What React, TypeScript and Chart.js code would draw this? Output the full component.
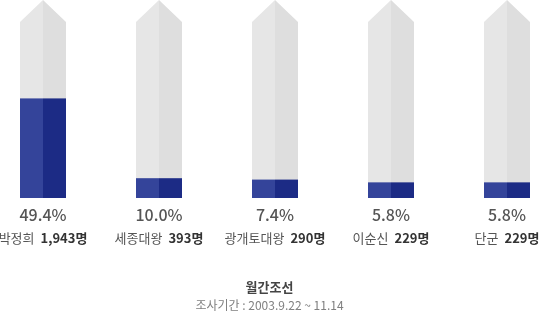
import React, { useEffect, useRef } from "react";
import { Chart, registerables } from "chart.js";

Chart.register(...registerables);

const names = ["박정희", "세종대왕", "광개토대왕", "이순신", "단군"];
const percents = [49.4, 10.0, 7.4, 5.8, 5.8];
const counts = [1943, 393, 290, 229, 229];
// fill level of each pencil as drawn in the picture (percent of full pencil height)
const barLevels = [50.3, 10.0, 9.3, 7.9, 7.9];
const fullLevels = [100, 100, 100, 100, 100];
const sourceTitle = "월간조선";
const sourceNote = "조사기간 : 2003.9.22 ~ 11.14";

const FONT = '"Noto Sans CJK KR", "Noto Sans", sans-serif';

function fmt(n: number): string {
  return String(n).replace(/\B(?=(\d{3})+(?!\d))/g, ",");
}

const pencilPlugin = {
  id: "pencil",
  afterDatasetsDraw(chart: any) {
    const ctx = chart.ctx as CanvasRenderingContext2D;
    const bg = chart.getDatasetMeta(0);
    const fg = chart.getDatasetMeta(1);
    ctx.save();
    bg.data.forEach((el: any, i: number) => {
      const x = el.x;
      const hw = el.width / 2;
      const top = el.y;
      const base = el.base;
      const shoulder = top + hw - 1;
      // left half
      ctx.beginPath();
      ctx.moveTo(x - hw, base);
      ctx.lineTo(x - hw, shoulder);
      ctx.lineTo(x, top);
      ctx.lineTo(x, base);
      ctx.closePath();
      ctx.fillStyle = "#e6e6e6";
      ctx.fill();
      // right half
      ctx.beginPath();
      ctx.moveTo(x, top);
      ctx.lineTo(x + hw, shoulder);
      ctx.lineTo(x + hw, base);
      ctx.lineTo(x, base);
      ctx.closePath();
      ctx.fillStyle = "#dedede";
      ctx.fill();

      const f = fg.data[i];
      const fy = f.y;
      ctx.fillStyle = "#34449a";
      ctx.fillRect(x - hw, fy, hw, base - fy);
      ctx.fillStyle = "#1c2b85";
      ctx.fillRect(x, fy, hw, base - fy);

      // labels
      ctx.textBaseline = "middle";
      ctx.textAlign = "center";
      ctx.fillStyle = "#555555";
      ctx.font = `500 16px ${FONT}`;
      ctx.fillText(percents[i].toFixed(1) + "%", x, base + 17);

      const nameFont = `13px ${FONT}`;
      const numFont = `bold 13px ${FONT}`;
      const nameText = names[i];
      const numText = fmt(counts[i]) + "명";
      const gap = 6;
      ctx.font = nameFont;
      const w1 = ctx.measureText(nameText).width;
      ctx.font = numFont;
      const w2 = ctx.measureText(numText).width;
      const sx = x - (w1 + gap + w2) / 2;
      ctx.textAlign = "left";
      ctx.font = nameFont;
      ctx.fillStyle = "#555555";
      ctx.fillText(nameText, sx, base + 40);
      ctx.font = numFont;
      ctx.fillStyle = "#333333";
      ctx.fillText(numText, sx + w1 + gap, base + 40);
    });

    const cx = chart.width / 2;
    ctx.textAlign = "center";
    ctx.textBaseline = "middle";
    ctx.font = `bold 13px ${FONT}`;
    ctx.fillStyle = "#444444";
    ctx.fillText(sourceTitle, cx, 287);
    ctx.font = `12px ${FONT}`;
    ctx.fillStyle = "#808080";
    ctx.fillText(sourceNote, cx, 305);
    ctx.restore();
  },
};

export default function App() {
  const ref = useRef<HTMLCanvasElement | null>(null);
  useEffect(() => {
    document.body.style.margin = "0";
    if (!ref.current) return;
    const chart = new Chart(ref.current, {
      type: "bar",
      data: {
        labels: names,
        datasets: [
          {
            label: "전체",
            data: fullLevels,
            backgroundColor: "rgba(0,0,0,0)",
            grouped: false,
            barThickness: 46,
          } as any,
          {
            label: "지지율",
            data: barLevels,
            backgroundColor: "rgba(0,0,0,0)",
            grouped: false,
            barThickness: 46,
          } as any,
        ],
      },
      options: {
        animation: false,
        responsive: true,
        maintainAspectRatio: false,
        devicePixelRatio: 1,
        layout: { padding: { left: 43, right: 32, top: 0, bottom: 116 } },
        plugins: {
          legend: { display: false },
          tooltip: { enabled: false },
          title: { display: false },
        },
        scales: {
          x: { display: false, offset: false, grid: { offset: false } },
          y: { display: false, min: 0, max: 100 },
        },
      },
      plugins: [pencilPlugin],
    });
    return () => chart.destroy();
  }, []);
  return (
    <div style={{ width: 539, height: 314, position: "relative", background: "#fff" }}>
      <canvas ref={ref} />
    </div>
  );
}
